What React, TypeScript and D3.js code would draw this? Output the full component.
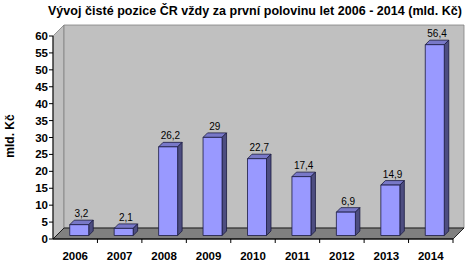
import React from "react";
import * as d3 from "d3";

const years = ["2006", "2007", "2008", "2009", "2010", "2011", "2012", "2013", "2014"];
const values = [3.2, 2.1, 26.2, 29, 22.7, 17.4, 6.9, 14.9, 56.4];
const valueLabels = ["3,2", "2,1", "26,2", "29", "22,7", "17,4", "6,9", "14,9", "56,4"];
const yTicks = [0, 5, 10, 15, 20, 25, 30, 35, 40, 45, 50, 55, 60];
const title = "Vývoj čisté pozice ČR vždy za první polovinu let 2006 - 2014 (mld. Kč)";
const yAxisTitle = "mld. Kč";

const W = 470, H = 262;
const FONT = "'Liberation Sans', Arial, sans-serif";

export default function App() {
  const x0 = 53, x1 = 453, yBase = 239, yTop = 36;
  const D = 11; // wall depth
  const x = d3.scaleBand<string>().domain(years).range([x0, x1]).paddingInner(0).paddingOuter(0);
  const y = d3.scaleLinear().domain([0, 60]).range([yBase, yTop]);
  const bw = x.bandwidth();
  const barW = 19;
  const dFront = 3.5;
  const dBar = 4.5;

  const pts = (a: number[][]) => a.map((p) => p.join(",")).join(" ");

  return (
    <svg width={W} height={H} style={{ position: "absolute", left: 0, top: 0, background: "#fff" }} fontFamily={FONT}>
      {/* side wall */}
      <polygon points={pts([[x0, yTop], [x0 + D, yTop - D], [x0 + D, yBase - D], [x0, yBase]])} fill="#c0c0c0" stroke="#808080" strokeWidth={0.8} />
      {/* back wall */}
      <polygon points={pts([[x0 + D, yTop - D], [x1 + D, yTop - D], [x1 + D, yBase - D], [x0 + D, yBase - D]])} fill="#c0c0c0" stroke="#808080" strokeWidth={0.8} />
      {/* floor */}
      <polygon points={pts([[x0, yBase], [x1, yBase], [x1 + D, yBase - D], [x0 + D, yBase - D]])} fill="#808080" stroke="#000" strokeWidth={0.8} />

      {/* bars */}
      {years.map((yr, i) => {
        const v = values[i];
        const cx = (x(yr) as number) + bw / 2 + 4;
        const fl = cx - barW / 2 - dFront + dFront; // front-left x
        const fr = fl + barW;
        const fb = yBase - dFront;
        const ft = y(v) - dFront;
        const sx = dBar, sy = dBar;
        return (
          <g key={yr} stroke="#1a1a40" strokeWidth={0.8} strokeLinejoin="round">
            <polygon points={pts([[fl, ft], [fr, ft], [fr + sx, ft - sy], [fl + sx, ft - sy]])} fill="#7878c8" />
            <polygon points={pts([[fr, ft], [fr + sx, ft - sy], [fr + sx, fb - sy], [fr, fb]])} fill="#4d4d80" />
            <rect x={fl} y={ft} width={barW} height={fb - ft} fill="#9999ff" />
            <text x={cx + sx / 2} y={ft - sy - 3} textAnchor="middle" fontSize={10} fill="#000" stroke="none">
              {valueLabels[i]}
            </text>
          </g>
        );
      })}

      {/* y axis */}
      <line x1={x0} y1={yTop} x2={x0} y2={yBase} stroke="#000" strokeWidth={1} />
      {yTicks.map((t) => (
        <g key={t}>
          <line x1={x0 - 4} x2={x0} y1={y(t)} y2={y(t)} stroke="#000" strokeWidth={1} />
          <text x={x0 - 5} y={y(t) + 4} textAnchor="end" fontSize={11.5} fontWeight="bold" fill="#000">
            {t}
          </text>
        </g>
      ))}

      {/* x axis */}
      <line x1={x0} y1={yBase} x2={x1} y2={yBase} stroke="#000" strokeWidth={1} />
      {years.map((yr) => (
        <line key={"t" + yr} x1={(x(yr) as number) + bw} x2={(x(yr) as number) + bw} y1={yBase} y2={yBase + 4} stroke="#000" strokeWidth={1} />
      ))}
      {years.map((yr) => (
        <text key={"l" + yr} x={(x(yr) as number) + bw / 2} y={260} textAnchor="middle" fontSize={11.5} fontWeight="bold" fill="#000">
          {yr}
        </text>
      ))}

      {/* y axis title */}
      <text transform={`translate(14,136) rotate(-90)`} textAnchor="middle" fontSize={12} fontWeight="bold" fill="#000">
        {yAxisTitle}
      </text>

      {/* title */}
      <text x={255} y={15} textAnchor="middle" fontSize={12.5} fontWeight="bold" fill="#000" textLength={414} lengthAdjust="spacing">
        {title}
      </text>
    </svg>
  );
}
